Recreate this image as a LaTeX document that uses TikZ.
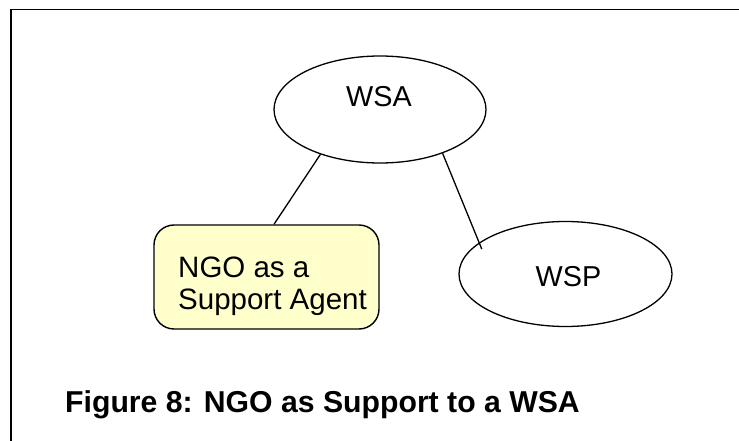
\documentclass[tikz,border=0pt]{standalone}
\usepackage{fontspec}
\setmainfont{Liberation Sans}
\usetikzlibrary{shapes.geometric}

\definecolor{notefill}{HTML}{FFFFCC}

\tikzset{
  oval/.style={draw=black, line width=1.3pt, ellipse, inner sep=0pt},
  notebox/.style={draw=black, line width=1.4pt, fill=notefill, rounded corners=20pt,
    rectangle, inner sep=0pt, minimum width=225pt, minimum height=104pt},
  link/.style={draw=black, line width=1.3pt},
  frameline/.style={draw=black, line width=1.3pt},
  bigtext/.style={inner sep=0pt, font=\fontsize{28.8}{31.7}\selectfont},
  notetext/.style={inner sep=0pt, font=\fontsize{29.5}{31.7}\selectfont},
  captiontext/.style={inner sep=0pt, font=\fontsize{30.2}{34}\selectfont\bfseries}
}

\begin{document}
\begin{tikzpicture}[x=1pt, y=-1pt]
  \useasboundingbox (0,0) rectangle (739,441);

  % frame: left and top edges only
  \coordinate (fbl) at (11,441);
  \coordinate (ftl) at (11,9.7);
  \coordinate (ftr) at (739,9.7);
  \draw[frameline] (fbl) -- (ftl) -- (ftr);

  % shapes
  \node[oval, minimum width=212pt, minimum height=107pt] (wsa) at (380,109.5) {};
  \node[oval, minimum width=213pt, minimum height=105pt] (wsp) at (565.5,274) {};
  \node[notebox] (ngo) at (266.5,277) {};

  % labels
  \node[bigtext, anchor=base] (wsatext) at (379,106.7) {WSA};
  \node[bigtext, anchor=base] (wsptext) at (568.5,286.7) {WSP};
  \node[notetext, anchor=north west, align=left] (ngotext) at (178,256.5) {NGO as a\\Support Agent};

  % connectors
  \draw[link] (wsa.217) -- ([xshift=7.5pt]ngo.north);
  \draw[link, shorten >=-7pt] (wsa.325) -- (wsp.160);

  % caption
  \node[captiontext, anchor=base west] (caption) at (65,412) {Figure 8: NGO as Support to a WSA};
\end{tikzpicture}
\end{document}
